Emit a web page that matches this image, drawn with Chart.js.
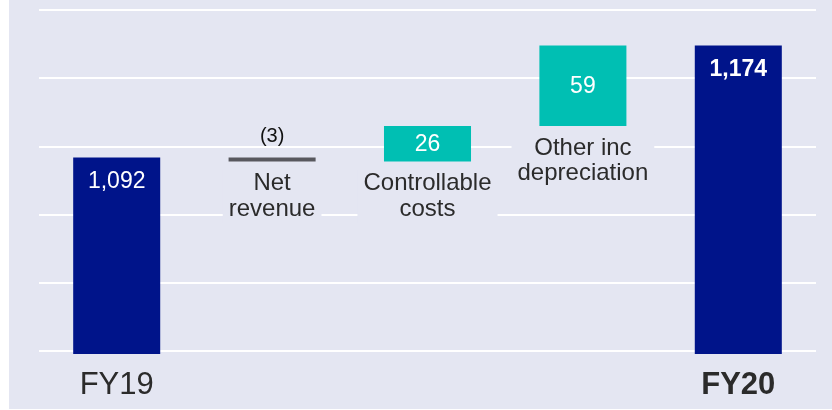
<!DOCTYPE html>
<html>
<head>
<meta charset="utf-8">
<script src="https://cdn.jsdelivr.net/npm/chart.js@4"></script>
<style>
  body { margin: 0; background: #ffffff; }
  canvas { display: block; }
</style>
</head>
<body>
<canvas id="graficoPuente" width="832" height="410"></canvas>
<script>
const categorias = ['FY19', 'Net revenue', 'Controllable costs', 'Other inc depreciation', 'FY20'];
const lineasCategoria = [null, ['Net', 'revenue'], ['Controllable', 'costs'], ['Other inc', 'depreciation'], null];
const totales = [1092, null, null, null, 1174];
const variaciones = [null, -3, 26, 59, null];
const etiquetasValor = ['1,092', '(3)', '26', '59', '1,174'];
const valoresEje = [950, 1000, 1050, 1100, 1150, 1200];

const FUENTE = "'Liberation Sans', Arial, Helvetica, sans-serif";
const LAVANDA = '#e4e6f2';
const NAVY = '#00148a';
const TEAL = '#00bfb3';
const GRIS = '#58585e';
const TEXTO = '#2b2b2b';

// barras flotantes para el puente
let acumulado = 0;
const datos = categorias.map((c, i) => {
    if (totales[i] !== null) {
        acumulado = totales[i];
        return totales[i];
    }
    const inicio = acumulado;
    acumulado += variaciones[i];
    return [Math.min(inicio, acumulado), Math.max(inicio, acumulado)];
});
const colores = categorias.map((c, i) => {
    if (totales[i] !== null) return NAVY;
    return variaciones[i] < 0 ? GRIS : TEAL;
});

const fondo = {
    id: 'fondo',
    beforeDraw(chart) {
        const ctx = chart.ctx;
        ctx.save();
        ctx.fillStyle = LAVANDA;
        ctx.fillRect(9, 0, chart.width - 9, chart.height - 1);
        ctx.restore();
    }
};

const etiquetas = {
    id: 'etiquetas',
    afterDatasetsDraw(chart) {
        const ctx = chart.ctx;
        const meta = chart.getDatasetMeta(0);
        ctx.save();
        meta.data.forEach((bar, i) => {
            const arriba = Math.min(bar.y, bar.base);
            const abajo = Math.max(bar.y, bar.base);
            ctx.textAlign = 'center';
            ctx.textBaseline = 'middle';

            // nombres de las categorias intermedias
            if (lineasCategoria[i]) {
                ctx.font = `24px ${FUENTE}`;
                const ancho = Math.max(...lineasCategoria[i].map(t => ctx.measureText(t).width));
                const y0 = abajo + 22;
                ctx.fillStyle = LAVANDA;
                ctx.fillRect(bar.x - ancho / 2 - 6, y0 - 14, ancho + 12, 25 * lineasCategoria[i].length + 4);
                ctx.fillStyle = TEXTO;
                lineasCategoria[i].forEach((t, k) => ctx.fillText(t, bar.x, y0 + k * 25.5));
            }

            // valores
            if (totales[i] !== null) {
                ctx.font = `${i === 4 ? 'bold ' : ''}23px ${FUENTE}`;
                ctx.fillStyle = '#ffffff';
                ctx.fillText(etiquetasValor[i], bar.x, arriba + 24);
            } else if (variaciones[i] < 0) {
                ctx.font = `20px ${FUENTE}`;
                ctx.fillStyle = '#111111';
                ctx.fillText(etiquetasValor[i], bar.x, arriba - 21);
            } else {
                ctx.font = `23px ${FUENTE}`;
                ctx.fillStyle = '#ffffff';
                ctx.fillText(etiquetasValor[i], bar.x, (arriba + abajo) / 2 + 1);
            }
        });
        ctx.restore();
    }
};

const ctx = document.getElementById('graficoPuente').getContext('2d');

new Chart(ctx, {
    type: 'bar',
    data: {
        labels: categorias,
        datasets: [{
            data: datos,
            backgroundColor: colores,
            borderWidth: 0,
            borderSkipped: false,
            barPercentage: 0.56,
            categoryPercentage: 1
        }]
    },
    options: {
        responsive: false,
        animation: false,
        devicePixelRatio: 1,
        layout: {
            padding: { left: 39, right: 16, top: 10, bottom: 0 }
        },
        scales: {
            y: {
                min: 948,
                max: 1200,
                afterBuildTicks: axis => {
                    axis.ticks = valoresEje.map(v => ({ value: v }));
                },
                ticks: { display: false },
                grid: { color: '#ffffff', lineWidth: 2, drawTicks: false },
                border: { display: false }
            },
            x: {
                afterFit: axis => {
                    axis.height = 56;
                },
                grid: { display: false, drawTicks: false },
                border: { display: false },
                ticks: {
                    padding: 16,
                    color: TEXTO,
                    maxRotation: 0,
                    autoSkip: false,
                    font: function(context) {
                        return { family: FUENTE, size: 31, lineHeight: 1, weight: context.index === 4 ? 'bold' : 'normal' };
                    },
                    callback: function(value, index) {
                        return totales[index] !== null ? categorias[index] : '';
                    }
                }
            }
        },
        plugins: {
            legend: { display: false },
            tooltip: { enabled: false }
        }
    },
    plugins: [fondo, etiquetas]
});
</script>
</body>
</html>
